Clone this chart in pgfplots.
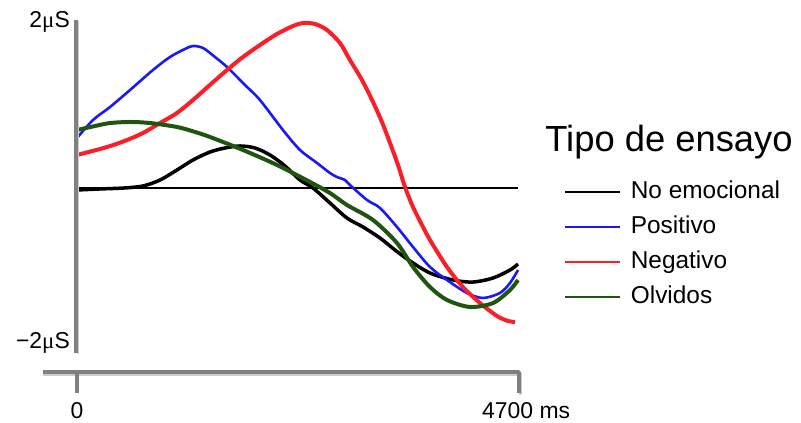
\documentclass[border=0pt]{standalone}
\usepackage{pgfplots}
\pgfplotsset{compat=1.18}
\usepackage{fontspec}
\setmainfont{Liberation Sans}
\newfontfamily\ticksfont{Liberation Sans}
\newfontfamily\muf{Liberation Serif}
\newfontfamily\legfont{Liberation Sans}
\newfontfamily\titlefont{Liberation Sans}
\definecolor{cblue}{RGB}{25,25,245}
\definecolor{cred}{RGB}{250,30,40}
\definecolor{cgreen}{RGB}{30,85,15}
\definecolor{axgray}{RGB}{128,128,128}
\begin{document}
\begin{tikzpicture}
\begin{axis}[
  at={(0,0)}, anchor=south west,
  scale only axis, width=441bp, height=322bp,
  xmin=0, xmax=4700, ymin=-2, ymax=2,
  hide axis, clip=false,
  legend style={draw=none, fill=none, inner sep=0pt, outer sep=0pt,
    at={(1.104,0.521)}, anchor=north west,
    row sep=14bp, column sep=10bp,
    font=\legfont\fontsize{24.5}{28}\selectfont,
    nodes={inner xsep=0pt, inner ysep=0pt, text height=17bp, text depth=4bp}},
  legend cell align=left,
  legend image code/.code={\draw[#1] (0bp,0bp) -- (55bp,0bp);},
  legend image post style={line width=2bp},
]
% zero reference line
\addplot[black, line width=1.8bp, forget plot] coordinates {(0,0) (4700,0)};
% No emocional
\addplot[black, line width=3.5bp, smooth] coordinates {
(0,-0.025) (245,-0.012) (500,0) (703,0.025) (885,0.099) (1066,0.224) (1236,0.348)
(1417,0.447) (1577,0.497) (1737,0.522) (1897,0.497) (2057,0.410) (2217,0.273)
(2377,0.099) (2515,0) (2696,-0.186) (2877,-0.373) (3048,-0.484) (3229,-0.621)
(3389,-0.770) (3549,-0.907) (3762,-1.056) (4007,-1.143) (4220,-1.168)
(4434,-1.118) (4615,-1.019) (4700,-0.944)};
\addlegendentry{No emocional}
% Positivo
\addplot[cblue, line width=2.6bp, smooth] coordinates {
(0,0.621) (171,0.845) (352,1.006) (565,1.217) (810,1.466) (991,1.627) (1151,1.727)
(1236,1.764) (1343,1.739) (1471,1.627) (1599,1.503) (1790,1.280) (1950,1.093)
(2195,0.720) (2377,0.472) (2558,0.311) (2696,0.186) (2771,0.137) (2856,0.099)
(2909,0.037) (3091,-0.149) (3229,-0.248) (3410,-0.484) (3581,-0.733)
(3762,-0.981) (3943,-1.143) (4156,-1.304) (4327,-1.366) (4508,-1.304)
(4615,-1.180) (4700,-1.019)};
\addlegendentry{Positivo}
% Negativo
\addplot[cred, line width=4bp, smooth] coordinates {
(0,0.410) (320,0.509) (533,0.596) (703,0.683) (885,0.807) (1066,0.932) (1236,1.093)
(1417,1.280) (1599,1.466) (1769,1.627) (1950,1.776) (2131,1.913) (2302,2.012)
(2409,2.050) (2537,2.037) (2664,1.963) (2803,1.801) (2909,1.590) (3037,1.342)
(3155,1.068) (3250,0.820) (3336,0.559) (3421,0.286) (3496,0.012) (3581,-0.236)
(3677,-0.460) (3762,-0.646) (3943,-0.981) (4113,-1.230) (4295,-1.429)
(4476,-1.590) (4593,-1.652) (4668,-1.665)};
\addlegendentry{Negativo}
% Olvidos
\addplot[cgreen, line width=4bp, smooth] coordinates {
(0,0.720) (192,0.770) (352,0.807) (565,0.820) (778,0.807) (1066,0.758) (1258,0.696)
(1417,0.634) (1769,0.472) (2131,0.286) (2483,0.075) (2696,-0.062) (2877,-0.211)
(3155,-0.398) (3410,-0.683) (3581,-0.981) (3762,-1.230) (3943,-1.391)
(4188,-1.478) (4434,-1.429) (4615,-1.267) (4700,-1.143)};
\addlegendentry{Olvidos}
\end{axis}
% y axis line
\draw[black!20, line width=2bp] (0.8bp,328bp) -- (0.8bp,-5bp);
\draw[axgray, line width=3bp] (-1bp,329bp) -- (-1bp,-4bp);
% x axis bar with ticks
\draw[black!20, line width=2.5bp] (-34bp,-25.5bp) -- (443.5bp,-25.5bp) -- (443.5bp,-46bp);
\draw[axgray, line width=3.5bp, line join=round] (-34bp,-23bp) -- (442bp,-23bp) -- (442bp,-44bp);
\draw[axgray, line width=3.5bp] (0bp,-23bp) -- (0bp,-44bp);
% tick labels
\node[anchor=base east, inner sep=0pt] at (-7bp,321bp) {\ticksfont\fontsize{23}{26}\selectfont 2{\muf μ}S};
\node[anchor=base east, inner sep=0pt] at (-7bp,1bp) {\ticksfont\fontsize{23}{26}\selectfont −2{\muf μ}S};
\node[anchor=base, inner sep=0pt] at (0bp,-69bp) {\ticksfont\fontsize{23}{26}\selectfont 0};
\node[anchor=base west, inner sep=0pt] at (405bp,-69bp) {\ticksfont\fontsize{23}{26}\selectfont 4700 ms};
% legend title
\node[anchor=base, inner sep=0pt] at (592bp,197bp) {\titlefont\fontsize{36.5}{40}\selectfont Tipo de ensayo};
\pgfresetboundingbox
\path[use as bounding box] (-77bp,-74bp) rectangle (724bp,349bp);
\end{tikzpicture}
\end{document}
